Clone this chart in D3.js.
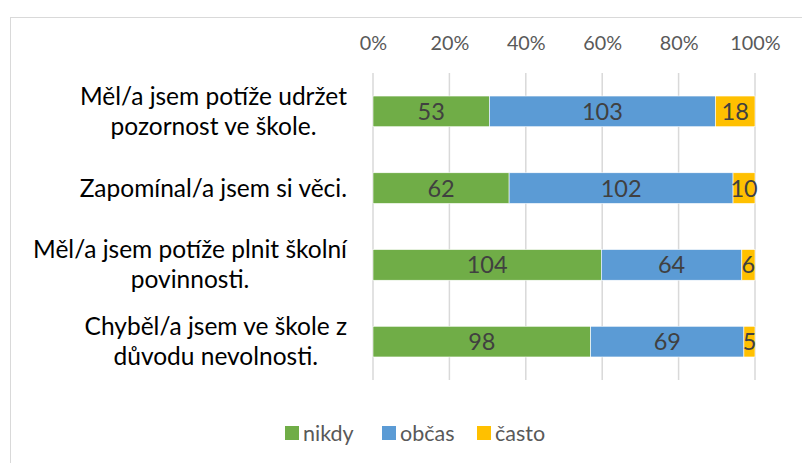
<!DOCTYPE html>
<html>
<head>
<meta charset="utf-8">
<script src="https://cdn.jsdelivr.net/npm/d3@7"></script>
<style>
  body { margin: 0; background: #fff; }
  text { font-family: Lato, "Open Sans", sans-serif; }
</style>
</head>
<body>
<svg id="chart" width="802" height="463"></svg>
<script>
// data
const categories = [
    ["Měl/a jsem potíže udržet", "pozornost ve škole."],
    ["Zapomínal/a jsem si věci."],
    ["Měl/a jsem potíže plnit školní", "povinnosti."],
    ["Chyběl/a jsem ve škole z", "důvodu nevolnosti."]
];
const seriesNames = ["nikdy", "občas", "často"];
const nikdy = [53, 62, 104, 98];
const obcas = [103, 102, 64, 69];
const casto = [18, 10, 6, 5];
const seriesColors = ["#70AD47", "#5B9BD5", "#FFC000"];
const tickValues = [0, 0.2, 0.4, 0.6, 0.8, 1];

const svg = d3.select("#chart");

// chart area border
svg.append("rect")
    .attr("x", 10.5).attr("y", 17.5)
    .attr("width", 820).attr("height", 480)
    .attr("fill", "none")
    .attr("stroke", "#D9D9D9");

const plotLeft = 373, plotRight = 755, plotTop = 73, plotBottom = 380;

const x = d3.scaleLinear().domain([0, 1]).range([plotLeft, plotRight]);
const y = d3.scaleBand()
    .domain(d3.range(categories.length))
    .range([plotTop, plotBottom])
    .paddingInner(0.6)
    .paddingOuter(0.3);

// gridlines
svg.append("g")
    .selectAll("line")
    .data(tickValues)
    .join("line")
    .attr("x1", d => x(d)).attr("x2", d => x(d))
    .attr("y1", plotTop).attr("y2", plotBottom)
    .attr("stroke", "#D9D9D9")
    .attr("stroke-width", 1.5);

// top axis
const axis = svg.append("g")
    .attr("transform", `translate(0,${plotTop})`)
    .call(d3.axisTop(x).tickValues(tickValues).tickFormat(d3.format(".0%")).tickSize(0).tickPadding(23));
axis.select(".domain").remove();
axis.selectAll("text")
    .attr("fill", "#595959")
    .style("font-size", "19.8px")
    .style("font-family", "Lato, sans-serif");

// stacked (100%)
const rows = categories.map((c, i) => ({ i: i, nikdy: nikdy[i], obcas: obcas[i], casto: casto[i] }));
const keys = ["nikdy", "obcas", "casto"];
const stack = d3.stack().keys(keys).offset(d3.stackOffsetExpand);
const layers = stack(rows);

const groups = svg.append("g")
    .selectAll("g")
    .data(layers)
    .join("g")
    .attr("fill", (d, k) => seriesColors[k]);

groups.selectAll("rect")
    .data(d => d)
    .join("rect")
    .attr("x", d => x(d[0]))
    .attr("y", d => y(d.data.i))
    .attr("width", d => x(d[1]) - x(d[0]))
    .attr("height", y.bandwidth())
    .attr("stroke", "#fff")
    .attr("stroke-width", 0.6);

// data labels
layers.forEach((layer, k) => {
    svg.append("g")
        .selectAll("text")
        .data(layer)
        .join("text")
        .attr("x", d => (x(d[0]) + x(d[1])) / 2)
        .attr("y", d => y(d.data.i) + y.bandwidth() / 2)
        .attr("dy", "0.36em")
        .attr("text-anchor", "middle")
        .attr("fill", "#404040")
        .style("font-size", "23.5px")
        .text(d => d.data[keys[k]]);
});

// category labels: centred block, right-aligned against plot
const labelRight = 347;
const lineH = 30;
categories.forEach((lines, i) => {
    const g = svg.append("g");
    const cy = y(i) + y.bandwidth() / 2;
    const texts = g.selectAll("text")
        .data(lines)
        .join("text")
        .attr("y", (d, j) => cy + (j - (lines.length - 1) / 2) * lineH)
        .attr("dy", "0.35em")
        .attr("text-anchor", "middle")
        .attr("fill", "#000")
        .style("font-size", "24.5px")
        .text(d => d);
    let maxW = 0;
    texts.each(function() { maxW = Math.max(maxW, this.getComputedTextLength()); });
    texts.attr("x", labelRight - maxW / 2);
});

// legend
const legend = svg.append("g").attr("transform", "translate(285,433)");
const legendX = [0, 97, 192];
seriesNames.forEach((name, k) => {
    const item = legend.append("g").attr("transform", `translate(${legendX[k]},0)`);
    item.append("rect")
        .attr("x", 0).attr("y", -7)
        .attr("width", 14).attr("height", 14)
        .attr("fill", seriesColors[k]);
    item.append("text")
        .attr("x", 18).attr("y", 0)
        .attr("dy", "0.35em")
        .attr("fill", "#595959")
        .style("font-size", "21.5px")
        .text(name);
});
</script>
</body>
</html>
